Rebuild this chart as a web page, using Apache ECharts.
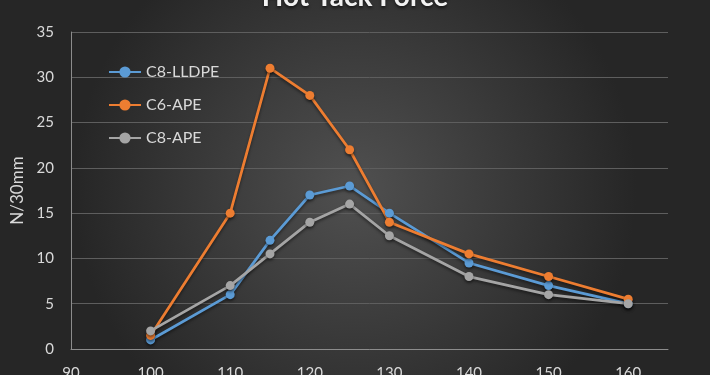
<!DOCTYPE html>
<html><head><meta charset="utf-8">
<script src="https://cdn.jsdelivr.net/npm/echarts@6/dist/echarts.min.js"></script>
<style>html,body{margin:0;padding:0;background:#333}#c{width:710px;height:375px}</style>
</head><body><div id="c"></div>
<script>
const temps = [100, 110, 115, 120, 125, 130, 140, 150, 160];
const c8LLDPE = [1, 6, 12, 17, 18, 15, 9.5, 7, 5];
const c6APE = [1.5, 15, 31, 28, 22, 14, 10.5, 8, 5.5];
const c8APE = [2, 7, 10.5, 14, 16, 12.5, 8, 6, 5];
const seriesNames = ['C8-LLDPE', 'C6-APE', 'C8-APE'];
const seriesColors = ['#5b9bd5', '#ed7d31', '#a5a5a5'];
const seriesValues = [c8LLDPE, c6APE, c8APE];

const font = 'Lato, "Open Sans", sans-serif';
const chart = echarts.init(document.getElementById('c'));
chart.setOption({
  backgroundColor: {
    type: 'radial', x: 0.5, y: 0.5, r: 0.75,
    colorStops: [{offset: 0, color: '#505050'}, {offset: 1, color: '#262626'}]
  },
  animation: false,
  title: {
    text: 'Hot Tack Force', left: 'center', top: -22,
    textStyle: {color: '#f2f2f2', fontSize: 28, fontWeight: 'bold', fontFamily: font,
      textShadowColor: 'rgba(0,0,0,0.6)', textShadowBlur: 3, textShadowOffsetY: 2}
  },
  legend: {
    orient: 'vertical', left: 103, top: 59, itemGap: 17,
    itemWidth: 32, itemHeight: 14,
    textStyle: {color: '#d9d9d9', fontSize: 16, fontFamily: font},
    data: seriesNames
  },
  grid: {left: 71, right: 42, top: 32, bottom: 26, containLabel: false, outerBoundsMode: 'none'},
  xAxis: {
    type: 'value', min: 90, max: 165, interval: 10,
    axisLine: {lineStyle: {color: '#8c8c8c', width: 1}},
    axisTick: {show: false},
    splitLine: {show: false},
    axisLabel: {color: '#d9d9d9', fontSize: 15, fontFamily: font, margin: 17,
      formatter: v => (v === 165 ? '' : String(v))}
  },
  yAxis: {
    type: 'value', min: 0, max: 35, interval: 5,
    name: 'N/30mm', nameLocation: 'middle', nameGap: 42,
    nameTextStyle: {color: '#d9d9d9', fontSize: 17, fontFamily: font},
    axisLine: {show: true, lineStyle: {color: '#8c8c8c', width: 1}},
    axisTick: {show: false},
    splitLine: {lineStyle: {color: '#5e5e5e', width: 1}},
    axisLabel: {color: '#d9d9d9', fontSize: 15, fontFamily: font, margin: 17}
  },
  series: seriesNames.map((n, i) => ({
    name: n, type: 'line',
    data: temps.map((t, j) => [t, seriesValues[i][j]]),
    symbol: 'circle', symbolSize: 9,
    color: seriesColors[i],
    lineStyle: {width: 2.75, color: seriesColors[i], shadowColor: 'rgba(0,0,0,0.45)', shadowBlur: 3, shadowOffsetY: 2},
    itemStyle: {color: seriesColors[i], shadowColor: 'rgba(0,0,0,0.5)', shadowBlur: 3, shadowOffsetY: 2}
  }))
});
</script></body></html>
